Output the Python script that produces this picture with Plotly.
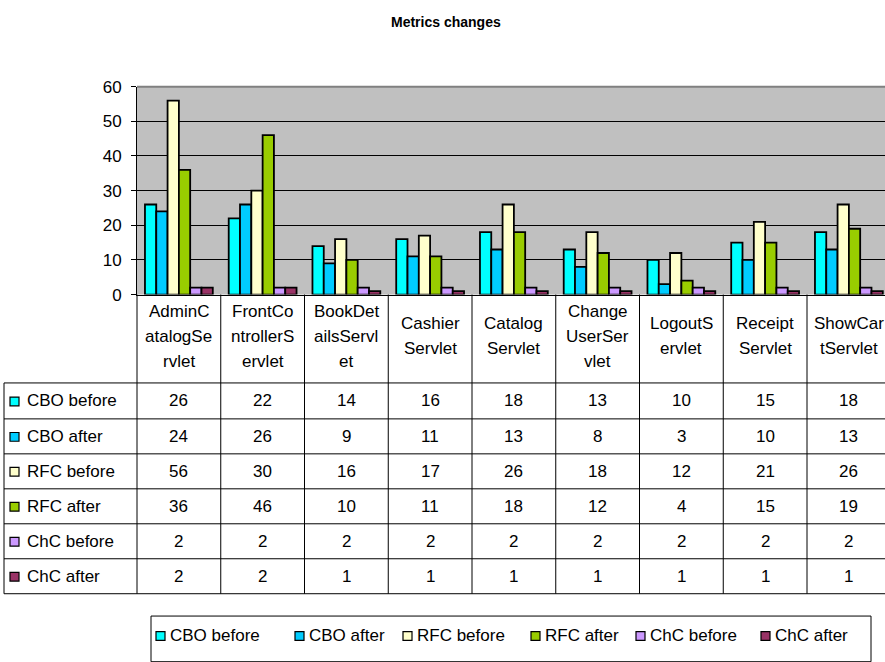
import plotly.graph_objects as go

# ---- data -------------------------------------------------------------
categories = [
    "AdminCatalogServlet", "FrontControllerServlet", "BookDetailsServlet",
    "CashierServlet", "CatalogServlet", "ChangeUserServlet",
    "LogoutServlet", "ReceiptServlet", "ShowCartServlet",
]
# category labels as wrapped in the data-table header
header_lines = [
    ["AdminC", "atalogSe", "rvlet"],
    ["FrontCo", "ntrollerS", "ervlet"],
    ["BookDet", "ailsServl", "et"],
    ["Cashier", "Servlet"],
    ["Catalog", "Servlet"],
    ["Change", "UserSer", "vlet"],
    ["LogoutS", "ervlet"],
    ["Receipt", "Servlet"],
    ["ShowCar", "tServlet"],
]
series_names = ["CBO before", "CBO after", "RFC before", "RFC after", "ChC before", "ChC after"]
cbo_before = [26, 22, 14, 16, 18, 13, 10, 15, 18]
cbo_after = [24, 26, 9, 11, 13, 8, 3, 10, 13]
rfc_before = [56, 30, 16, 17, 26, 18, 12, 21, 26]
rfc_after = [36, 46, 10, 11, 18, 12, 4, 15, 19]
chc_before = [2, 2, 2, 2, 2, 2, 2, 2, 2]
chc_after = [2, 2, 1, 1, 1, 1, 1, 1, 1]
y_ticks = [0, 10, 20, 30, 40, 50, 60]

series_values = [cbo_before, cbo_after, rfc_before, rfc_after, chc_before, chc_after]
series_colors = ["#00FFFF", "#00CCFF", "#FFFFCC", "#99CC00", "#CC99FF", "#993366"]

# ---- geometry (pixels) -------------------------------------------------
W, H = 885, 662
FONT = "Liberation Sans, Arial, sans-serif"
FS = 17


def px(x):
    return x / W


def py(y):
    return 1 - y / H


plot_left, plot_top, plot_bottom = 137, 80, 294
col_w = 83.75
x_end = -0.5 + (W - plot_left) / col_w
header_mid, header_step = 337, 25.7
row_edges = [385, 422, 458, 494, 530, 566, 602]

fig = go.Figure()
for name, vals, col in zip(series_names, series_values, series_colors):
    fig.add_trace(go.Bar(
        x=categories, y=vals, name=name,
        marker=dict(color=col, line=dict(color="black", width=1.8)),
        showlegend=False,
    ))

shapes = []
annotations = []

# top border of the plot area
shapes.append(dict(type="line", xref="paper", yref="paper",
                   x0=px(plot_left), x1=1, y0=py(plot_top), y1=py(plot_top),
                   line=dict(color="#808080", width=2)))

# data table grid: vertical lines
shapes.append(dict(type="line", xref="paper", yref="paper",
                   x0=px(plot_left), x1=px(plot_left), y0=py(plot_bottom), y1=py(row_edges[-1]),
                   line=dict(color="black", width=1)))
shapes.append(dict(type="line", xref="paper", yref="paper",
                   x0=px(4), x1=px(4), y0=py(row_edges[0]), y1=py(row_edges[-1]),
                   line=dict(color="black", width=1)))
for k in range(1, len(categories)):
    shapes.append(dict(type="line", xref="x", yref="paper",
                       x0=k - 0.5, x1=k - 0.5, y0=py(plot_bottom), y1=py(row_edges[-1]),
                       line=dict(color="black", width=1)))
# horizontal lines
for ry in row_edges:
    shapes.append(dict(type="line", xref="paper", yref="paper",
                       x0=px(4), x1=1, y0=py(ry), y1=py(ry),
                       line=dict(color="black", width=1)))

# header: wrapped category names
for cat, lines in zip(categories, header_lines):
    n = len(lines)
    for i, ln in enumerate(lines):
        yy = header_mid + (i - (n - 1) / 2) * header_step
        annotations.append(dict(x=cat, y=py(yy), xref="x", yref="paper", text=ln,
                                showarrow=False, xanchor="center", yanchor="middle",
                                font=dict(size=FS, color="black", family=FONT)))

# table rows: legend key, series name, values
for r, (name, vals, col) in enumerate(zip(series_names, series_values, series_colors)):
    yc = (row_edges[r] + row_edges[r + 1]) / 2
    shapes.append(dict(type="rect", xref="paper", yref="paper",
                       x0=px(10), x1=px(19), y0=py(yc - 4), y1=py(yc + 5),
                       fillcolor=col, line=dict(color="black", width=1.2)))
    annotations.append(dict(x=px(25), y=py(yc), xref="paper", yref="paper", text=name,
                            showarrow=False, xanchor="left", yanchor="middle",
                            font=dict(size=FS, color="black", family=FONT)))
    for cat, v in zip(categories, vals):
        annotations.append(dict(x=cat, y=py(yc), xref="x", yref="paper", text=str(v),
                                showarrow=False, xanchor="center", yanchor="middle",
                                font=dict(size=FS, color="black", family=FONT)))

# legend box below the table
leg_top = 625
leg_y = 645
leg_x = [156, 295, 403, 531, 636, 761]
shapes.append(dict(type="rect", xref="paper", yref="paper",
                   x0=px(151), x1=px(871), y0=py(leg_top), y1=py(H + 10),
                   line=dict(color="black", width=1), fillcolor="rgba(0,0,0,0)"))
for name, col, lx in zip(series_names, series_colors, leg_x):
    shapes.append(dict(type="rect", xref="paper", yref="paper",
                       x0=px(lx), x1=px(lx + 9), y0=py(leg_y - 4), y1=py(leg_y + 5),
                       fillcolor=col, line=dict(color="black", width=1.2)))
    annotations.append(dict(x=px(lx + 12), y=py(leg_y), xref="paper", yref="paper", text=name,
                            showarrow=False, xanchor="left", yanchor="middle",
                            font=dict(size=FS, color="black", family=FONT)))

# title
annotations.append(dict(x=px(446), y=py(13), xref="paper", yref="paper",
                        text="<b>Metrics changes</b>", showarrow=False,
                        xanchor="center", yanchor="middle",
                        font=dict(size=14, color="black", family=FONT)))

fig.update_layout(
    width=W, height=H,
    margin=dict(l=0, r=0, t=0, b=0),
    paper_bgcolor="white",
    plot_bgcolor="#C0C0C0",
    barmode="group",
    bargap=0.19,
    bargroupgap=0,
    font=dict(family=FONT, size=FS, color="black"),
    xaxis=dict(domain=[px(plot_left), 1], range=[-0.5, x_end],
               showticklabels=False, ticks="", showgrid=False, zeroline=False,
               showline=True, linecolor="black", linewidth=1),
    yaxis=dict(domain=[py(plot_bottom), py(plot_top)], range=[0, 60],
               tickvals=y_ticks, ticks="outside", ticklen=5, tickcolor="black",
               tickfont=dict(size=FS, color="black", family=FONT),
               ticklabelstandoff=6,
               showgrid=True, gridcolor="black", gridwidth=1,
               zeroline=False, showline=True, linecolor="black", linewidth=1),
    shapes=shapes,
    annotations=annotations,
)

fig.write_html("out.html")
